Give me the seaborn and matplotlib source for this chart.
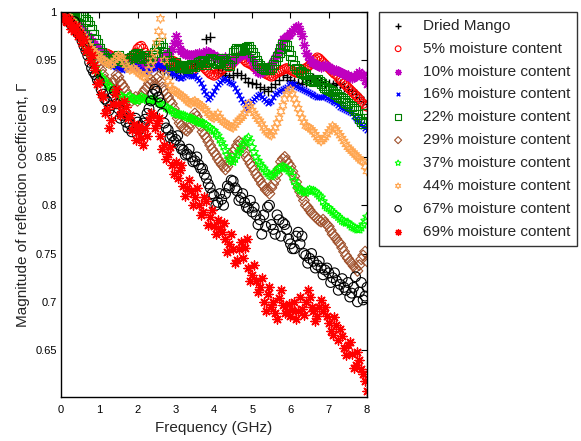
import numpy as np
import pandas as pd
import matplotlib
matplotlib.use("Agg")
import matplotlib.pyplot as plt
import seaborn as sns

# ---------------- data ----------------
freq = [0.0, 0.1, 0.2, 0.3, 0.4, 0.5, 0.6, 0.7, 0.8, 0.9,
        1.0, 1.1, 1.2, 1.3, 1.4, 1.5, 1.6, 1.7, 1.8, 1.9,
        2.0, 2.1, 2.2, 2.3, 2.4, 2.5, 2.6, 2.7, 2.8, 2.9,
        3.0, 3.1, 3.2, 3.3, 3.4, 3.5, 3.6, 3.7, 3.8, 3.9,
        4.0, 4.1, 4.2, 4.3, 4.4, 4.5, 4.6, 4.7, 4.8, 4.9,
        5.0, 5.1, 5.2, 5.3, 5.4, 5.5, 5.6, 5.7, 5.8, 5.9,
        6.0, 6.1, 6.2, 6.3, 6.4, 6.5, 6.6, 6.7, 6.8, 6.9,
        7.0, 7.1, 7.2, 7.3, 7.4, 7.5, 7.6, 7.7, 7.8, 7.9, 8.0]

freq_mid = [0.05, 0.15, 0.25, 0.35, 0.45, 0.55, 0.65, 0.75, 0.85, 0.95,
            1.05, 1.15, 1.25, 1.35, 1.45, 1.55, 1.65, 1.75, 1.85, 1.95,
            2.05, 2.15, 2.25, 2.35, 2.45, 2.55, 2.65, 2.75, 2.85, 2.95,
            3.05, 3.15, 3.25, 3.35, 3.45, 3.55, 3.65, 3.75, 3.85, 3.95,
            4.05, 4.15, 4.25, 4.35, 4.45, 4.55, 4.65, 4.75, 4.85, 4.95,
            5.05, 5.15, 5.25, 5.35, 5.45, 5.55, 5.65, 5.75, 5.85, 5.95,
            6.05, 6.15, 6.25, 6.35, 6.45, 6.55, 6.65, 6.75, 6.85, 6.95,
            7.05, 7.15, 7.25, 7.35, 7.45, 7.55, 7.65, 7.75, 7.85, 7.95]

dried = [1.000, 0.998, 0.995, 0.992, 0.988, 0.983, 0.978, 0.972, 0.966, 0.960,
         0.956, 0.953, 0.950, 0.948, 0.948, 0.946, 0.945, 0.946, 0.948, 0.950,
         0.952, 0.950, 0.948, 0.946, 0.945, 0.944, 0.942, 0.940, 0.938, 0.936,
         0.935, 0.938, 0.940, 0.942, 0.944, 0.946, 0.948, 0.955, 0.972, 0.974,
         0.950, 0.940, 0.937, 0.935, 0.933, 0.935, 0.937, 0.935, 0.932, 0.928,
         0.926, 0.925, 0.922, 0.920, 0.918, 0.922, 0.925, 0.930, 0.935, 0.933,
         0.930, 0.928, 0.926, 0.925, 0.928, 0.930, 0.932, 0.930, 0.928, 0.926,
         0.925, 0.924, 0.926, 0.925, 0.922, 0.920, 0.918, 0.915, 0.912, 0.908, 0.905]

mc05 = [1.000, 0.998, 0.995, 0.992, 0.988, 0.984, 0.978, 0.972, 0.968, 0.962,
        0.958, 0.955, 0.957, 0.955, 0.952, 0.950, 0.948, 0.950, 0.952, 0.955,
        0.962, 0.965, 0.958, 0.953, 0.950, 0.947, 0.945, 0.943, 0.946, 0.950,
        0.948, 0.945, 0.942, 0.940, 0.938, 0.943, 0.946, 0.944, 0.940, 0.936,
        0.934, 0.937, 0.940, 0.945, 0.943, 0.948, 0.952, 0.954, 0.950, 0.947,
        0.945, 0.942, 0.940, 0.938, 0.935, 0.933, 0.936, 0.938, 0.940, 0.942,
        0.940, 0.938, 0.937, 0.940, 0.942, 0.945, 0.950, 0.953, 0.950, 0.946,
        0.942, 0.938, 0.935, 0.930, 0.926, 0.922, 0.918, 0.914, 0.910, 0.905, 0.902]
mc05_mid = [0.999, 0.996, 0.993, 0.990, 0.986, 0.981, 0.975, 0.970, 0.965, 0.960,
            0.956, 0.956, 0.956, 0.953, 0.951, 0.949, 0.949, 0.951, 0.953, 0.958,
            0.964, 0.962, 0.955, 0.951, 0.948, 0.946, 0.944, 0.944, 0.948, 0.949,
            0.946, 0.943, 0.941, 0.939, 0.940, 0.945, 0.945, 0.942, 0.938, 0.935,
            0.935, 0.938, 0.942, 0.944, 0.945, 0.950, 0.953, 0.952, 0.948, 0.946,
            0.943, 0.941, 0.939, 0.936, 0.934, 0.934, 0.937, 0.939, 0.941, 0.941,
            0.939, 0.937, 0.938, 0.941, 0.943, 0.947, 0.951, 0.952, 0.948, 0.944,
            0.940, 0.936, 0.932, 0.928, 0.924, 0.920, 0.916, 0.912, 0.907, 0.903]

mc10 = [1.000, 0.998, 0.996, 0.993, 0.990, 0.985, 0.980, 0.975, 0.970, 0.965,
        0.962, 0.958, 0.955, 0.952, 0.950, 0.948, 0.946, 0.944, 0.945, 0.943,
        0.945, 0.948, 0.944, 0.942, 0.945, 0.948, 0.950, 0.955, 0.958, 0.962,
        0.975, 0.962, 0.958, 0.957, 0.955, 0.957, 0.958, 0.956, 0.960, 0.958,
        0.955, 0.952, 0.950, 0.953, 0.950, 0.948, 0.952, 0.956, 0.958, 0.955,
        0.950, 0.940, 0.937, 0.940, 0.942, 0.945, 0.952, 0.960, 0.972, 0.975,
        0.978, 0.982, 0.985, 0.975, 0.958, 0.950, 0.947, 0.945, 0.943, 0.945,
        0.943, 0.940, 0.940, 0.938, 0.936, 0.935, 0.932, 0.934, 0.938, 0.935, 0.925]
mc10_mid = [0.999, 0.997, 0.994, 0.991, 0.987, 0.982, 0.977, 0.972, 0.967, 0.963,
            0.960, 0.956, 0.953, 0.951, 0.949, 0.947, 0.945, 0.944, 0.944, 0.944,
            0.946, 0.946, 0.943, 0.943, 0.946, 0.949, 0.952, 0.956, 0.960, 0.968,
            0.968, 0.960, 0.957, 0.956, 0.956, 0.957, 0.957, 0.958, 0.959, 0.956,
            0.953, 0.951, 0.951, 0.951, 0.949, 0.950, 0.954, 0.957, 0.956, 0.952,
            0.945, 0.938, 0.938, 0.941, 0.943, 0.948, 0.956, 0.966, 0.973, 0.976,
            0.980, 0.984, 0.980, 0.966, 0.954, 0.948, 0.946, 0.944, 0.944, 0.944,
            0.941, 0.940, 0.939, 0.937, 0.935, 0.933, 0.933, 0.936, 0.936, 0.930]

mc16 = [1.000, 0.998, 0.995, 0.990, 0.986, 0.982, 0.976, 0.970, 0.964, 0.958,
        0.953, 0.950, 0.948, 0.945, 0.944, 0.942, 0.940, 0.942, 0.944, 0.945,
        0.943, 0.940, 0.938, 0.940, 0.942, 0.945, 0.946, 0.943, 0.940, 0.937,
        0.935, 0.932, 0.933, 0.936, 0.934, 0.935, 0.930, 0.922, 0.915, 0.912,
        0.918, 0.925, 0.930, 0.932, 0.928, 0.925, 0.918, 0.910, 0.905, 0.903,
        0.908, 0.912, 0.915, 0.910, 0.906, 0.908, 0.915, 0.918, 0.920, 0.922,
        0.926, 0.925, 0.922, 0.920, 0.918, 0.916, 0.914, 0.912, 0.912, 0.913,
        0.910, 0.908, 0.906, 0.902, 0.900, 0.898, 0.895, 0.890, 0.886, 0.882, 0.878]
mc16_mid = [0.999, 0.996, 0.992, 0.988, 0.984, 0.979, 0.973, 0.967, 0.961, 0.955,
            0.951, 0.949, 0.946, 0.944, 0.943, 0.941, 0.941, 0.943, 0.944, 0.944,
            0.941, 0.939, 0.939, 0.941, 0.943, 0.945, 0.944, 0.941, 0.938, 0.936,
            0.933, 0.932, 0.935, 0.935, 0.934, 0.932, 0.926, 0.918, 0.910, 0.915,
            0.922, 0.928, 0.931, 0.930, 0.926, 0.921, 0.914, 0.907, 0.900, 0.906,
            0.910, 0.914, 0.912, 0.908, 0.907, 0.912, 0.916, 0.919, 0.921, 0.924,
            0.925, 0.923, 0.921, 0.919, 0.917, 0.915, 0.913, 0.912, 0.912, 0.911,
            0.909, 0.907, 0.904, 0.901, 0.899, 0.896, 0.892, 0.888, 0.884, 0.880]

mc22 = [1.000, 1.000, 1.000, 0.999, 0.998, 0.996, 0.995, 0.990, 0.982, 0.972,
        0.962, 0.955, 0.952, 0.948, 0.952, 0.955, 0.950, 0.948, 0.952, 0.955,
        0.957, 0.952, 0.955, 0.950, 0.955, 0.962, 0.968, 0.958, 0.950, 0.945,
        0.948, 0.943, 0.945, 0.942, 0.946, 0.944, 0.948, 0.950, 0.946, 0.952,
        0.950, 0.947, 0.952, 0.948, 0.945, 0.958, 0.962, 0.960, 0.962, 0.964,
        0.958, 0.950, 0.945, 0.942, 0.940, 0.943, 0.950, 0.958, 0.966, 0.965,
        0.955, 0.945, 0.940, 0.937, 0.935, 0.930, 0.928, 0.930, 0.926, 0.922,
        0.920, 0.918, 0.915, 0.912, 0.908, 0.905, 0.902, 0.898, 0.890, 0.885, 0.895]
mc22_mid = [1.000, 1.000, 0.999, 0.998, 0.997, 0.995, 0.992, 0.986, 0.977, 0.967,
            0.958, 0.953, 0.950, 0.950, 0.953, 0.952, 0.949, 0.950, 0.953, 0.956,
            0.954, 0.953, 0.952, 0.952, 0.958, 0.965, 0.963, 0.954, 0.947, 0.946,
            0.945, 0.944, 0.943, 0.944, 0.945, 0.946, 0.949, 0.948, 0.949, 0.951,
            0.948, 0.949, 0.950, 0.946, 0.952, 0.960, 0.961, 0.961, 0.963, 0.961,
            0.954, 0.947, 0.943, 0.941, 0.941, 0.946, 0.954, 0.962, 0.966, 0.960,
            0.950, 0.942, 0.938, 0.936, 0.932, 0.929, 0.929, 0.928, 0.924, 0.921,
            0.919, 0.916, 0.913, 0.910, 0.906, 0.903, 0.900, 0.894, 0.887, 0.890]

mc29 = [1.000, 0.998, 0.995, 0.990, 0.985, 0.978, 0.970, 0.962, 0.957, 0.950,
        0.945, 0.935, 0.928, 0.922, 0.930, 0.933, 0.925, 0.918, 0.912, 0.910,
        0.908, 0.913, 0.920, 0.926, 0.928, 0.931, 0.928, 0.918, 0.912, 0.905,
        0.895, 0.885, 0.880, 0.877, 0.885, 0.895, 0.888, 0.876, 0.870, 0.862,
        0.855, 0.848, 0.842, 0.837, 0.845, 0.855, 0.862, 0.864, 0.855, 0.847,
        0.840, 0.832, 0.826, 0.820, 0.815, 0.818, 0.826, 0.838, 0.848, 0.846,
        0.840, 0.830, 0.818, 0.810, 0.800, 0.795, 0.790, 0.786, 0.783, 0.782,
        0.778, 0.770, 0.765, 0.760, 0.752, 0.745, 0.740, 0.735, 0.738, 0.748, 0.742]
mc29_mid = [0.999, 0.996, 0.992, 0.988, 0.982, 0.975, 0.966, 0.960, 0.953, 0.948,
            0.940, 0.930, 0.925, 0.926, 0.935, 0.928, 0.922, 0.914, 0.908, 0.912,
            0.910, 0.917, 0.922, 0.930, 0.925, 0.933, 0.922, 0.915, 0.908, 0.900,
            0.890, 0.882, 0.878, 0.880, 0.890, 0.892, 0.882, 0.873, 0.866, 0.858,
            0.852, 0.845, 0.840, 0.840, 0.850, 0.858, 0.866, 0.860, 0.850, 0.843,
            0.836, 0.829, 0.822, 0.816, 0.812, 0.822, 0.832, 0.845, 0.850, 0.843,
            0.835, 0.824, 0.814, 0.805, 0.798, 0.792, 0.788, 0.784, 0.785, 0.780,
            0.774, 0.768, 0.762, 0.756, 0.748, 0.742, 0.737, 0.732, 0.744, 0.752]

mc37 = [1.000, 0.998, 0.995, 0.990, 0.982, 0.975, 0.968, 0.960, 0.950, 0.942,
        0.935, 0.930, 0.925, 0.922, 0.918, 0.915, 0.912, 0.910, 0.913, 0.910,
        0.908, 0.912, 0.910, 0.908, 0.910, 0.908, 0.905, 0.903, 0.900, 0.898,
        0.895, 0.894, 0.893, 0.891, 0.890, 0.888, 0.886, 0.885, 0.883, 0.880,
        0.877, 0.872, 0.865, 0.857, 0.848, 0.845, 0.852, 0.858, 0.865, 0.870,
        0.860, 0.850, 0.843, 0.838, 0.833, 0.830, 0.834, 0.838, 0.840, 0.838,
        0.835, 0.825, 0.818, 0.815, 0.813, 0.816, 0.815, 0.812, 0.808, 0.800,
        0.797, 0.793, 0.790, 0.786, 0.783, 0.782, 0.778, 0.776, 0.775, 0.780, 0.788]
mc37_mid = [0.999, 0.997, 0.992, 0.986, 0.978, 0.972, 0.965, 0.955, 0.946, 0.938,
            0.932, 0.928, 0.923, 0.920, 0.916, 0.913, 0.911, 0.912, 0.911, 0.909,
            0.910, 0.911, 0.909, 0.909, 0.909, 0.906, 0.904, 0.901, 0.899, 0.896,
            0.894, 0.893, 0.892, 0.890, 0.889, 0.887, 0.885, 0.884, 0.881, 0.878,
            0.874, 0.868, 0.861, 0.852, 0.846, 0.848, 0.855, 0.862, 0.868, 0.866,
            0.855, 0.846, 0.840, 0.835, 0.831, 0.832, 0.836, 0.839, 0.839, 0.836,
            0.830, 0.821, 0.816, 0.814, 0.815, 0.815, 0.814, 0.810, 0.804, 0.798,
            0.795, 0.791, 0.788, 0.784, 0.782, 0.780, 0.777, 0.775, 0.777, 0.784]

mc44 = [1.000, 0.998, 0.995, 0.990, 0.985, 0.980, 0.975, 0.968, 0.962, 0.957,
        0.955, 0.950, 0.948, 0.945, 0.950, 0.955, 0.952, 0.945, 0.940, 0.942,
        0.938, 0.935, 0.932, 0.940, 0.950, 0.968, 0.993, 0.950, 0.928, 0.920,
        0.918, 0.915, 0.912, 0.908, 0.905, 0.908, 0.905, 0.902, 0.898, 0.893,
        0.890, 0.895, 0.888, 0.885, 0.882, 0.880, 0.886, 0.890, 0.895, 0.905,
        0.898, 0.892, 0.887, 0.880, 0.875, 0.872, 0.880, 0.890, 0.903, 0.915,
        0.920, 0.910, 0.900, 0.890, 0.882, 0.880, 0.876, 0.870, 0.866, 0.870,
        0.876, 0.882, 0.878, 0.872, 0.866, 0.860, 0.856, 0.852, 0.848, 0.845, 0.835]
mc44_mid = [0.999, 0.996, 0.992, 0.988, 0.982, 0.977, 0.972, 0.965, 0.960, 0.956,
            0.952, 0.949, 0.946, 0.947, 0.953, 0.954, 0.948, 0.942, 0.941, 0.940,
            0.936, 0.933, 0.936, 0.945, 0.958, 0.980, 0.975, 0.935, 0.924, 0.919,
            0.916, 0.913, 0.910, 0.906, 0.907, 0.906, 0.903, 0.900, 0.895, 0.891,
            0.892, 0.891, 0.886, 0.883, 0.881, 0.883, 0.888, 0.892, 0.900, 0.902,
            0.895, 0.889, 0.884, 0.877, 0.873, 0.876, 0.885, 0.897, 0.910, 0.918,
            0.915, 0.905, 0.895, 0.886, 0.881, 0.878, 0.873, 0.868, 0.868, 0.873,
            0.879, 0.880, 0.875, 0.869, 0.863, 0.858, 0.854, 0.850, 0.846, 0.840]

mc67 = [1.000, 0.995, 0.990, 0.985, 0.980, 0.975, 0.965, 0.955, 0.942, 0.935,
        0.928, 0.915, 0.908, 0.903, 0.918, 0.900, 0.893, 0.886, 0.884, 0.880,
        0.886, 0.882, 0.889, 0.900, 0.915, 0.918, 0.906, 0.885, 0.878, 0.872,
        0.868, 0.862, 0.857, 0.853, 0.850, 0.846, 0.842, 0.838, 0.828, 0.818,
        0.810, 0.803, 0.806, 0.812, 0.818, 0.825, 0.815, 0.808, 0.803, 0.797,
        0.793, 0.790, 0.785, 0.790, 0.798, 0.780, 0.770, 0.785, 0.782, 0.775,
        0.760, 0.755, 0.772, 0.768, 0.748, 0.745, 0.742, 0.738, 0.735, 0.733,
        0.730, 0.725, 0.722, 0.718, 0.715, 0.720, 0.709, 0.726, 0.710, 0.702, 0.715]
mc67_mid = [0.998, 0.993, 0.988, 0.990, 0.978, 0.970, 0.960, 0.948, 0.938, 0.930,
            0.920, 0.910, 0.898, 0.912, 0.905, 0.890, 0.897, 0.880, 0.876, 0.890,
            0.878, 0.885, 0.895, 0.908, 0.920, 0.912, 0.895, 0.880, 0.870, 0.866,
            0.872, 0.858, 0.852, 0.858, 0.845, 0.850, 0.838, 0.832, 0.822, 0.812,
            0.800, 0.812, 0.800, 0.820, 0.826, 0.818, 0.805, 0.812, 0.798, 0.805,
            0.798, 0.780, 0.770, 0.778, 0.800, 0.775, 0.790, 0.768, 0.780, 0.765,
            0.755, 0.768, 0.760, 0.750, 0.740, 0.750, 0.735, 0.742, 0.728, 0.735,
            0.720, 0.730, 0.712, 0.724, 0.712, 0.705, 0.715, 0.700, 0.720, 0.706]

mc69 = [1.000, 0.995, 0.993, 0.988, 0.985, 0.978, 0.972, 0.962, 0.955, 0.940,
        0.928, 0.912, 0.900, 0.888, 0.915, 0.905, 0.898, 0.902, 0.893, 0.884,
        0.876, 0.870, 0.880, 0.888, 0.893, 0.885, 0.872, 0.862, 0.853, 0.842,
        0.845, 0.836, 0.820, 0.818, 0.815, 0.808, 0.800, 0.793, 0.804, 0.788,
        0.778, 0.785, 0.772, 0.765, 0.760, 0.755, 0.743, 0.762, 0.756, 0.735,
        0.728, 0.722, 0.715, 0.700, 0.708, 0.695, 0.688, 0.704, 0.697, 0.690,
        0.685, 0.700, 0.690, 0.693, 0.700, 0.705, 0.690, 0.685, 0.702, 0.695,
        0.678, 0.666, 0.676, 0.672, 0.652, 0.655, 0.646, 0.635, 0.640, 0.625, 0.608]
mc69_mid = [0.992, 0.990, 0.982, 0.980, 0.975, 0.968, 0.960, 0.950, 0.945, 0.925,
            0.915, 0.895, 0.880, 0.905, 0.920, 0.893, 0.908, 0.890, 0.878, 0.868,
            0.882, 0.862, 0.872, 0.895, 0.880, 0.890, 0.858, 0.848, 0.860, 0.832,
            0.828, 0.842, 0.810, 0.826, 0.800, 0.818, 0.790, 0.808, 0.780, 0.795,
            0.770, 0.775, 0.782, 0.752, 0.770, 0.740, 0.755, 0.745, 0.765, 0.722,
            0.738, 0.710, 0.725, 0.690, 0.715, 0.700, 0.682, 0.712, 0.688, 0.698,
            0.692, 0.682, 0.705, 0.686, 0.712, 0.695, 0.680, 0.695, 0.690, 0.685,
            0.670, 0.684, 0.660, 0.665, 0.645, 0.658, 0.632, 0.648, 0.630, 0.618]

labels = ["Dried Mango", "5% moisture content", "10% moisture content",
          "16% moisture content", "22% moisture content", "29% moisture content",
          "37% moisture content", "44% moisture content", "67% moisture content",
          "69% moisture content"]
series_main = [dried, mc05, mc10, mc16, mc22, mc29, mc37, mc44, mc67, mc69]
series_mid = [None, mc05_mid, mc10_mid, mc16_mid, mc22_mid, mc29_mid,
              mc37_mid, mc44_mid, mc67_mid, mc69_mid]
x_ticks = [0, 1, 2, 3, 4, 5, 6, 7, 8]
y_ticks = [0.65, 0.7, 0.75, 0.8, 0.85, 0.9, 0.95, 1]
y_ticklabels = ["0.65", "0.7", "0.75", "0.8", "0.85", "0.9", "0.95", "1"]

# ---------------- style ----------------
colors = ["#000000", "#FF0000", "#BF00BF", "#0000FF", "#007F00",
          "#A0522D", "#00FF00", "#FFA54F", "#000000", "#FF0000"]
markers = ["+", "o", (8, 2, 0), "x", "s", "D", (5, 1, 0), (6, 1, 0), "o", (8, 2, 0)]
hollow = [False, True, False, False, True, True, True, True, True, False]
sizes = [45, 40, 40, 16, 42, 30, 42, 42, 50, 42]

sns.set_style("white")
plt.rcParams["font.family"] = ["Liberation Sans", "DejaVu Sans"]

fig = plt.figure(figsize=(5.81, 4.41), dpi=100)
ax = fig.add_axes([61 / 581, 1 - 397 / 441, (367 - 61) / 581, (397 - 12) / 441])

for lab, main, mid, c, m, h, s in zip(labels, series_main, series_mid,
                                      colors, markers, hollow, sizes):
    xs = list(freq)
    ys = list(main)
    if mid is not None:
        xs = xs + list(freq_mid)
        ys = ys + list(mid)
    df = pd.DataFrame({"freq": xs, "gamma": ys}).sort_values("freq")
    if h:
        sns.scatterplot(data=df, x="freq", y="gamma", marker=m, s=s,
                        facecolor="none", edgecolor=c, linewidth=0.8,
                        ax=ax, label=lab)
    else:
        sns.scatterplot(data=df, x="freq", y="gamma", marker=m, s=s,
                        color=c, linewidth=1.0, ax=ax, label=lab)

ax.set_xlim(0, 8)
ax.set_ylim(0.6015, 1.0)
ax.set_xticks(x_ticks)
ax.set_yticks(y_ticks)
ax.set_yticklabels(y_ticklabels)
ax.tick_params(direction="in", length=4, width=0.8, top=True, right=True,
               labelsize=8, colors="black", pad=3)
ax.tick_params(axis="x", pad=6)
for sp in ax.spines.values():
    sp.set_color("black")
    sp.set_linewidth(1.0)
ax.set_xlabel("Frequency (GHz)", fontsize=11, labelpad=4)
ax.set_ylabel("Magnitude of reflection coefficient, Γ", fontsize=11, labelpad=4)

leg = ax.legend(loc="upper left", bbox_to_anchor=(379 / 581, 1 - 12 / 441),
                bbox_transform=fig.transFigure, borderaxespad=0,
                frameon=True, fancybox=False, edgecolor="black",
                fontsize=11, markerscale=0.65, handletextpad=0.8,
                labelspacing=0.58, borderpad=0.45, scatterpoints=1,
                handlelength=1.6)
leg.get_frame().set_linewidth(1.0)

fig.savefig("out.png", dpi=100, facecolor="white")
